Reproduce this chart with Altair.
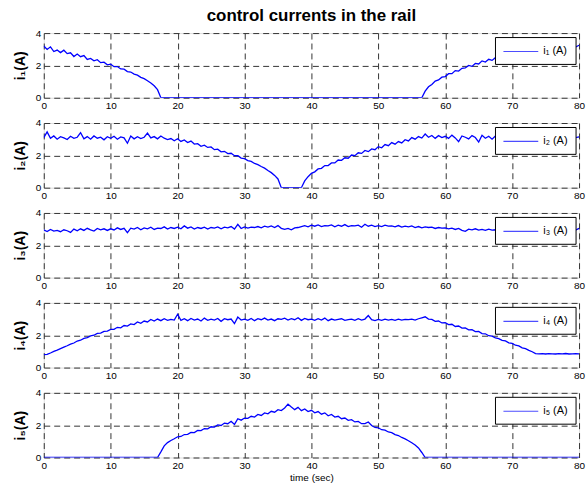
import altair as alt
import pandas as pd

# sampling instants (s): 0, 0.5, ..., 80
TIME = [k / 2 for k in range(161)]
XTICKS = [0, 10, 20, 30, 40, 50, 60, 70, 80]
YTICKS = [0, 2, 4]

Z20 = [0.0] * 20

I1 = ([3.20, 2.99, 3.15, 2.86, 2.95, 2.79, 2.94, 2.73, 2.78, 2.55, 2.70, 2.54, 2.61, 2.37, 2.43, 2.28, 2.35, 2.17, 2.20, 2.04]
      + [2.08, 1.92, 1.93, 1.78, 1.77, 1.62, 1.59, 1.46, 1.40, 1.26, 1.18, 1.05, 0.91, 0.74, 0.50, 0, 0, 0, 0, 0]
      + Z20 + Z20 + Z20
      + [0] * 14 + [0.41, 0.68, 0.82, 1.03, 1.10, 1.27]
      + [1.31, 1.49, 1.49, 1.68, 1.65, 1.82, 1.84, 2.00, 1.94, 2.12, 2.09, 2.28, 2.21, 2.38, 2.31, 2.48, 2.51, 2.48, 2.67, 2.60]
      + [2.78, 2.69, 2.89, 2.79, 2.95, 2.84, 3.06, 2.99, 3.17, 3.03, 3.21, 3.11, 3.32, 3.15, 3.24, 3.10, 3.28, 3.17, 3.29, 3.14]
      + [3.25])

I2 = ([3.10, 3.45, 3.05, 3.20, 3.00, 3.15, 3.08, 2.98, 3.18, 3.05, 3.12, 3.40, 3.02, 3.16, 3.00, 3.20, 3.06, 3.12, 2.96, 3.15]
      + [3.05, 3.18, 3.00, 3.14, 3.08, 2.75, 3.20, 3.02, 3.15, 3.04, 3.12, 3.38, 3.08, 3.16, 3.02, 3.20, 3.06, 2.98, 3.04, 2.90]
      + [3.03, 2.86, 2.95, 2.79, 2.88, 2.70, 2.72, 2.56, 2.63, 2.49, 2.52, 2.35, 2.38, 2.22, 2.25, 2.11, 2.13, 1.98, 1.98, 1.83]
      + [1.80, 1.68, 1.63, 1.50, 1.43, 1.31, 1.21, 1.06, 0.93, 0.76, 0.54, 0, 0, 0, 0, 0, 0, 0, 0.42, 0.68]
      + [0.89, 0.98, 1.16, 1.20, 1.37, 1.37, 1.53, 1.53, 1.71, 1.69, 1.85, 1.82, 2.02, 1.98, 2.16, 2.12, 2.30, 2.23, 2.40, 2.35]
      + [2.54, 2.47, 2.67, 2.60, 2.79, 2.69, 2.85, 2.77, 2.97, 2.89, 3.10, 3.00, 3.16, 3.07, 3.32, 3.12, 3.23, 3.05, 3.22, 3.10]
      + [3.18, 3.05, 3.25, 3.08, 2.85, 3.20, 3.12, 3.02, 3.22, 3.10, 2.82, 3.24, 3.06, 3.18, 3.00, 3.20, 3.12, 3.04, 3.25, 3.08]
      + [3.15, 3.02, 3.22, 3.10, 3.40, 3.05, 3.20, 3.10, 3.18, 3.02, 3.24, 3.08, 3.15, 3.00, 3.22, 3.12, 3.18, 3.05, 3.20, 3.10]
      + [3.15])

I3 = ([2.95, 2.85, 2.98, 2.88, 2.92, 2.84, 2.96, 2.90, 2.80, 3.00, 2.90, 3.02, 2.92, 3.05, 2.95, 2.88, 3.04, 2.96, 3.02, 2.92]
      + [3.02, 2.95, 3.08, 2.98, 3.05, 2.78, 3.06, 3.00, 3.10, 2.96, 3.08, 3.02, 3.12, 2.98, 3.06, 3.04, 3.14, 3.00, 3.10, 3.04]
      + [3.12, 3.02, 3.20, 3.06, 3.14, 3.00, 3.10, 3.04, 3.12, 3.00, 3.10, 3.06, 3.14, 3.02, 3.12, 3.08, 3.16, 3.00, 3.30, 3.04]
      + [3.14, 3.06, 3.12, 3.10, 3.16, 3.08, 3.18, 3.12, 3.20, 3.10, 3.22, 3.05, 2.98, 3.04, 2.96, 3.08, 3.10, 3.16, 3.22, 3.14]
      + [3.24, 3.18, 3.26, 3.16, 3.22, 3.20, 3.26, 3.14, 3.24, 3.18, 3.28, 3.16, 3.22, 3.20, 3.25, 3.12, 3.30, 3.18, 3.24, 3.16]
      + [3.22, 3.16, 3.24, 3.18, 3.20, 3.14, 3.22, 3.12, 3.18, 3.14, 3.20, 3.10, 3.16, 3.08, 3.14, 3.10, 3.12, 3.04, 3.10, 3.06]
      + [3.08, 3.02, 3.06, 2.98, 3.04, 2.92, 2.86, 3.00, 2.96, 3.02, 2.94, 2.98, 2.92, 3.00, 2.94, 2.96, 2.90, 2.98, 2.92, 2.96]
      + [2.98, 2.92, 2.96, 2.90, 3.00, 2.94, 2.98, 2.92, 2.96, 2.90, 2.98, 2.94, 3.00, 2.92, 2.96, 2.94, 3.02, 2.92, 2.98, 2.94]
      + [3.05])

I4 = ([0.80, 0.82, 0.90, 1.00, 1.08, 1.17, 1.26, 1.35, 1.45, 1.52, 1.64, 1.69, 1.80, 1.85, 1.96, 2.00, 2.11, 2.13, 2.24, 2.25]
      + [2.36, 2.36, 2.49, 2.46, 2.60, 2.57, 2.70, 2.66, 2.82, 2.74, 2.88, 2.82, 2.98, 2.88, 3.00, 2.90, 3.02, 2.92, 2.98, 2.94]
      + [3.30, 2.92, 3.02, 2.90, 3.04, 2.94, 3.00, 2.88, 3.06, 2.92, 3.00, 2.94, 3.04, 2.86, 3.02, 2.96, 3.00, 2.72, 3.12, 2.94]
      + [3.00, 2.92, 3.04, 2.90, 3.02, 2.96, 3.06, 2.94, 3.00, 2.90, 3.02, 2.98, 3.06, 2.94, 3.02, 2.96, 3.08, 2.92, 3.04, 2.96]
      + [3.00, 2.92, 3.02, 2.94, 3.06, 2.90, 3.00, 2.94, 2.98, 3.02, 2.92, 2.96, 3.00, 2.92, 3.02, 2.94, 3.00, 3.22, 2.96, 2.90]
      + [2.98, 2.92, 3.00, 2.94, 2.98, 2.92, 3.00, 2.94, 2.98, 2.96, 3.00, 2.94, 3.02, 3.08, 3.14, 3.00, 2.98, 2.86, 2.88, 2.76]
      + [2.78, 2.66, 2.68, 2.54, 2.57, 2.44, 2.45, 2.33, 2.34, 2.22, 2.23, 2.10, 2.09, 1.97, 1.94, 1.83, 1.79, 1.68, 1.65, 1.53]
      + [1.50, 1.38, 1.34, 1.22, 1.17, 1.06, 0.98, 0.86, 0.85, 0.86, 0.84, 0.86, 0.85, 0.84, 0.86, 0.85, 0.87, 0.84, 0.85, 0.86]
      + [0.85])

I5 = (Z20
      + [0] * 15 + [0.35, 0.72, 0.92, 1.05, 1.16]
      + [1.28, 1.30, 1.42, 1.43, 1.55, 1.54, 1.67, 1.66, 1.79, 1.77, 1.90, 1.88, 2.02, 1.98, 2.13, 2.09, 2.24, 2.05, 2.40, 2.31]
      + [2.44, 2.42, 2.55, 2.50, 2.66, 2.60, 2.76, 2.70, 2.86, 2.80, 2.96, 2.90, 3.06, 3.30, 3.12, 2.96, 3.10, 2.90, 3.00, 2.84]
      + [2.92, 2.76, 2.84, 2.68, 2.76, 2.58, 2.66, 2.50, 2.55, 2.40, 2.44, 2.30, 2.34, 2.20, 2.23, 2.09, 2.10, 2.20, 1.98, 1.86]
      + [1.84, 1.72, 1.69, 1.58, 1.54, 1.42, 1.36, 1.24, 1.15, 1.04, 0.91, 0.77, 0.59, 0.31, 0, 0, 0, 0, 0, 0]
      + Z20 + Z20
      + [0])

SERIES = [I1, I2, I3, I4, I5]
YTITLES = ["i\u2081(A)", "i\u2082(A)", "i\u2083(A)", "i\u2084(A)", "i\u2085(A)"]
LEGENDS = ["i\u2081 (A)", "i\u2082 (A)", "i\u2083 (A)", "i\u2084 (A)", "i\u2085 (A)"]

FONT = "Liberation Sans"
BLUE = "#0000ff"
W, H = 538, 65

panels = []
for k in range(5):
    df = pd.DataFrame({"t": TIME, "i": SERIES[k]})
    leg = pd.DataFrame({"s": [LEGENDS[k]]})
    xkw = dict(values=XTICKS, grid=True, gridDash=[6, 4], gridColor="#333333",
               gridWidth=1, gridOpacity=1, ticks=False, domain=False,
               labelFontSize=10, labelFont=FONT, labelColor="black",
               labelPadding=3, labelFlush=False)
    if k == 4:
        xkw.update(title="time (sec)", titleFontSize=10, titleFont=FONT,
                   titleFontWeight="normal", titleColor="black", titlePadding=2)
    else:
        xkw.update(title="")
    yax = alt.Axis(values=YTICKS, grid=True, gridDash=[6, 4], gridColor="#333333",
                   gridWidth=1, gridOpacity=1, ticks=False, domain=False,
                   labelFontSize=10, labelFont=FONT, labelColor="black",
                   labelPadding=3, labelFlush=False,
                   title=YTITLES[k], titleFontSize=14, titleFont=FONT,
                   titleFontWeight="bold", titleColor="black", titlePadding=8)
    line = (
        alt.Chart(df)
        .mark_line(strokeWidth=1.3, clip=True, color=BLUE)
        .encode(
            x=alt.X("t:Q", scale=alt.Scale(domain=[0, 80], nice=False), axis=alt.Axis(**xkw)),
            y=alt.Y("i:Q", scale=alt.Scale(domain=[0, 4], nice=False), axis=yax),
        )
    )
    box = alt.Chart(leg).mark_rect(fill="white", stroke="black", strokeWidth=1).encode(
        x=alt.value(454), x2=alt.value(535), y=alt.value(4.5), y2=alt.value(31.5)
    )
    sample = alt.Chart(leg).mark_rule(color="#4d4dff", strokeWidth=1.2).encode(
        x=alt.value(462), x2=alt.value(497), y=alt.value(18.5)
    )
    label = alt.Chart(leg).mark_text(
        align="left", baseline="middle", font=FONT, fontSize=11, color="black"
    ).encode(x=alt.value(502), y=alt.value(18), text="s:N")
    panels.append(alt.layer(line, box, sample, label).properties(width=W, height=H))

chart = (
    alt.vconcat(*panels, spacing=25.4)
    .properties(
        title=alt.TitleParams("control currents in the rail", font=FONT, fontSize=17,
                              fontWeight="bold", color="black", anchor="middle",
                              frame="group", offset=3),
        padding={"left": 12, "top": 5, "right": 2, "bottom": 2},
        bounds="flush",
    )
    .configure_view(stroke="black", strokeWidth=1)
    .configure(background="white")
)

chart.save("out.html", embed_options={"renderer": "svg", "actions": False})
